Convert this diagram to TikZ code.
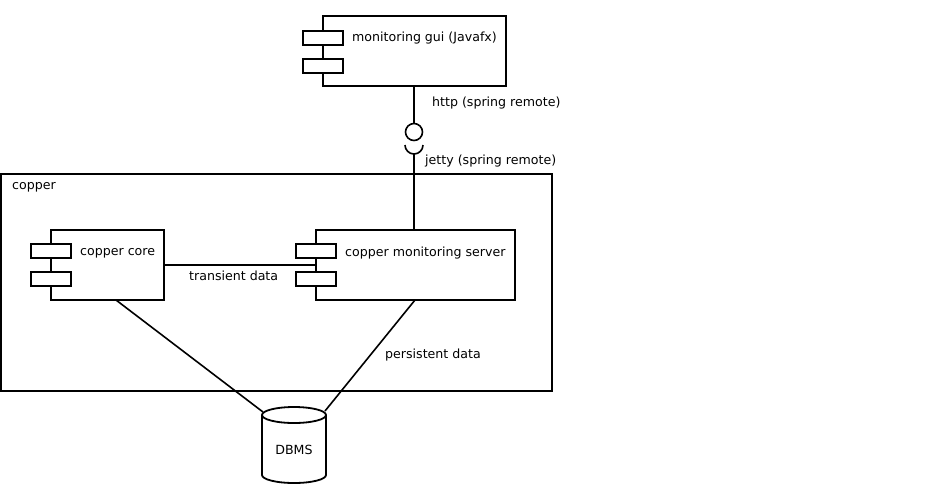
\documentclass[tikz,border=0pt]{standalone}
\usepackage{fontspec}
\setmainfont{DejaVu Sans}
\begin{document}
\begin{tikzpicture}[x=1pt,y=-1pt,
  every node/.style={font=\fontsize{12.6}{14}\selectfont},
  compbox/.style={draw, line width=2pt, fill=white, inner sep=0pt, minimum height=70pt},
  tab/.style={draw, line width=2pt, fill=white, inner sep=0pt, minimum width=40pt, minimum height=14pt},
  lbl/.style={anchor=west, inner sep=0pt},
  conn/.style={line width=1.6pt}]
\useasboundingbox (0,0) rectangle (928,499);
% frame
\node[draw, line width=2pt, inner sep=0pt, minimum width=551pt, minimum height=217pt] (frame) at (276.5,282.5) {};
\node[lbl] (framelbl) at (12,187) {copper};
% gui
\node[compbox, minimum width=183pt] (gui) at (414.5,51) {};
\node[tab] (guit1) at (323,37.5) {};
\node[tab] (guit2) at (323,65.5) {};
\node[lbl] (guilbl) at (352,38) {monitoring gui (Javafx)};
% core
\node[compbox, minimum width=113pt] (core) at (107.5,265) {};
\node[tab] (coret1) at (51,251) {};
\node[tab] (coret2) at (51,279) {};
\node[lbl] (corelbl) at (80,253) {copper core};
% server
\node[compbox, minimum width=199pt] (server) at (415.5,265) {};
\node[tab] (servt1) at (316,251) {};
\node[tab] (servt2) at (316,279) {};
\node[lbl] (servlbl) at (345,253) {copper monitoring server};
% interface
\node[draw, line width=1.6pt, circle, minimum size=17pt, inner sep=0pt] (lolly) at (414,132) {};
\coordinate (sockl) at (405,145);
\coordinate (sockb) at (414,154);
\draw[conn] (gui.south -| lolly) -- (lolly.north);
\draw[conn] (sockl) arc[start angle=180, end angle=0, radius=9];
\draw[conn] (sockb) -- (server.north -| sockb);
\node[lbl] (httplbl) at (432,103) {http (spring remote)};
\node[lbl] (jettylbl) at (425,161) {jetty (spring remote)};
% transient
\draw[conn] (core.east) -- (server.west);
\node[lbl] (translbl) at (189,276) {transient data};
% DB
\coordinate (dbl) at (262,415);
\coordinate (dbr) at (326,415);
\draw[line width=1.8pt, fill=white] (dbl) -- (262,475) arc[start angle=180, end angle=0, x radius=32, y radius=8] -- (dbr);
\draw[line width=1.8pt, fill=white] (294,415) ellipse[x radius=32, y radius=8];
\node (db) at (294,450) {DBMS};
\coordinate (corebot) at (116,300);
\coordinate (servbot) at (415,300);
\draw[conn] (corebot) -- (263,412);
\draw[conn] (servbot) -- (325,411);
\node[lbl] (perslbl) at (385,355) {persistent data};
\end{tikzpicture}
\end{document}
